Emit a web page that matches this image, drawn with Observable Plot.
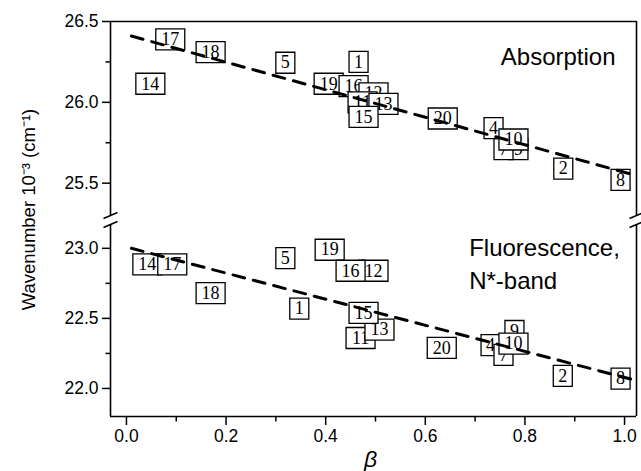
<!DOCTYPE html>
<html><head><meta charset="utf-8">
<script src="https://cdn.jsdelivr.net/npm/d3@7"></script>
<script src="https://cdn.jsdelivr.net/npm/@observablehq/plot@0.6"></script>
<style>
body{margin:0;background:#fff;}
#chart svg{display:block;}
[aria-label^="x-axis"] line,[aria-label^="x-axis"] path,[aria-label^="y-axis"] line,[aria-label^="y-axis"] path{stroke-width:1.5px;}
</style></head>
<body><div id="chart"></div>
<script>
// Absorption (top panel)
const absLabels = ["14","17","18","5","19","1","16","12","11","13","15","20","9","7","4","10","2","8"];
const absBeta   = [0.048,0.088,0.169,0.319,0.406,0.466,0.456,0.496,0.474,0.516,0.476,0.635,0.787,0.757,0.737,0.777,0.877,0.992];
const absNu     = [26.115,26.39,26.31,26.245,26.115,26.25,26.10,26.055,26.00,25.99,25.91,25.90,25.71,25.71,25.84,25.77,25.59,25.52];
// Fluorescence N*-band (bottom panel)
const fluLabels = ["14","17","18","5","19","1","12","16","11","13","15","20","9","4","7","10","2","8"];
const fluBeta   = [0.042,0.092,0.169,0.319,0.408,0.347,0.496,0.45,0.47,0.508,0.476,0.633,0.779,0.731,0.757,0.777,0.876,0.992];
const fluNu     = [22.886,22.886,22.68,22.93,22.99,22.57,22.84,22.84,22.36,22.42,22.54,22.29,22.41,22.31,22.24,22.32,22.09,22.07];
// dashed fit lines (end points)
const absFitBeta = [0.01, 1.02];
const absFitNu   = [26.41, 25.55];
const fluFitBeta = [0.01, 1.02];
const fluFitNu   = [23.00, 22.06];
// axes
const xTicks = [0, 0.2, 0.4, 0.6, 0.8, 1.0];
const xMinor = [0.1, 0.3, 0.5, 0.7, 0.9];
const yTicks = [22.0, 22.5, 23.0, 25.5, 26.0, 26.5];
const yMinor = [22.25, 22.75, 25.75, 26.25];
const xDomain = [-0.032, 1.024];
const yDomain = [21.8, 23.17, 25.3, 26.5];
const yLabel = "Wavenumber 10⁻³ (cm⁻¹)";
const xLabel = "β";

const boxNarrow = {draw(c){ c.rect(-9.5, -10.5, 19, 21); }};
const boxWide   = {draw(c){ c.rect(-14.5, -10.5, 29, 21); }};
const breakSym  = {draw(c){ c.moveTo(-7, 3); c.lineTo(7, -3); }};
const xTickSym  = {draw(c){ c.moveTo(0, 0); c.lineTo(0, 5); }};
const yTickSym  = {draw(c){ c.moveTo(0, 0); c.lineTo(-5, 0); }};

const serif = "'Liberation Serif', 'Times New Roman', serif";
const sans = "'Liberation Sans', Arial, sans-serif";
const fmt = d3.format(".1f");

function pointMarks(labels, beta, nu) {
  const out = [];
  labels.forEach((lab, i) => {
    const d = [{x: beta[i], y: nu[i], t: lab}];
    out.push(Plot.dot(d, {x: "x", y: "y", r: 10.5, symbol: lab.length > 1 ? boxWide : boxNarrow, fill: "white", stroke: "black", strokeWidth: 1.3}));
    out.push(Plot.text(d, {x: "x", y: "y", text: "t", fontFamily: serif, fontSize: 18, fill: "black"}));
  });
  return out;
}

const fitAbs = absFitBeta.map((b, i) => ({x: b, y: absFitNu[i]}));
const fitFlu = fluFitBeta.map((b, i) => ({x: b, y: fluFitNu[i]}));

const marks = [
  // frame
  Plot.ruleY([yDomain[3], yDomain[0]], {stroke: "black", strokeWidth: 1.6}),
  Plot.ruleX([xDomain[0], xDomain[1]], {y1: yDomain[2], y2: yDomain[3], stroke: "black", strokeWidth: 1.6}),
  Plot.ruleX([xDomain[0], xDomain[1]], {y1: yDomain[0], y2: yDomain[1], stroke: "black", strokeWidth: 1.6}),
  // break marks
  Plot.dot([[xDomain[0], yDomain[1]], [xDomain[0], yDomain[2]], [xDomain[1], yDomain[1]], [xDomain[1], yDomain[2]]],
    {x: d => d[0], y: d => d[1], r: 5, symbol: breakSym, fill: "none", stroke: "black", strokeWidth: 1.5}),
  // minor ticks
  Plot.dot(xMinor, {x: d => d, y: () => yDomain[0], r: 3, symbol: xTickSym, fill: "none", stroke: "black", strokeWidth: 1.5}),
  Plot.dot(yMinor, {y: d => d, x: () => xDomain[0], r: 3, symbol: yTickSym, fill: "none", stroke: "black", strokeWidth: 1.5}),
  // tick labels
  Plot.text(xTicks, {x: d => d, y: () => yDomain[0], dy: 20, text: d => fmt(d), fontFamily: sans, fontSize: 17.5, fill: "black"}),
  Plot.text(yTicks, {y: d => d, x: () => xDomain[0], dx: -12, textAnchor: "end", text: d => fmt(d), fontFamily: sans, fontSize: 17.5, fill: "black"}),
  ...pointMarks(absLabels, absBeta, absNu),
  ...pointMarks(fluLabels, fluBeta, fluNu),
  Plot.line(fitAbs, {x: "x", y: "y", stroke: "black", strokeWidth: 3, strokeDasharray: "12,9"}),
  Plot.line(fitFlu, {x: "x", y: "y", stroke: "black", strokeWidth: 3, strokeDasharray: "12,9"}),
  // annotations
  Plot.text(["Absorption"], {x: () => 0.982, y: () => 26.28, textAnchor: "end", fontFamily: sans, fontSize: 24, fill: "black"}),
  Plot.text(["Fluorescence,"], {x: () => 0.688, y: () => 23.0, textAnchor: "start", fontFamily: sans, fontSize: 24, fill: "black"}),
  Plot.text(["N*-band"], {x: () => 0.688, y: () => 22.765, textAnchor: "start", fontFamily: sans, fontSize: 24, fill: "black"}),
  Plot.text([yLabel], {x: () => -0.195, y: () => 25.337, rotate: -90, fontFamily: sans, fontSize: 18.5, fill: "black"}),
  Plot.text([xLabel], {x: () => 0.49, y: () => 21.49, fontFamily: sans, fontStyle: "italic", fontSize: 23, fill: "black"})
];

const chart = Plot.plot({
  width: 641,
  height: 471,
  marginLeft: 110,
  marginRight: 5,
  marginTop: 21,
  marginBottom: 55,
  style: {fontFamily: sans, fontSize: "17px", color: "black", background: "white"},
  x: {domain: xDomain, ticks: xTicks, tickSize: 9, tickFormat: () => "", label: null},
  y: {type: "linear", domain: yDomain, range: [416, 224, 215, 21], ticks: yTicks, tickSize: 8, tickFormat: () => "", label: null},
  marks
});
document.getElementById("chart").append(chart);
</script>
</body></html>
